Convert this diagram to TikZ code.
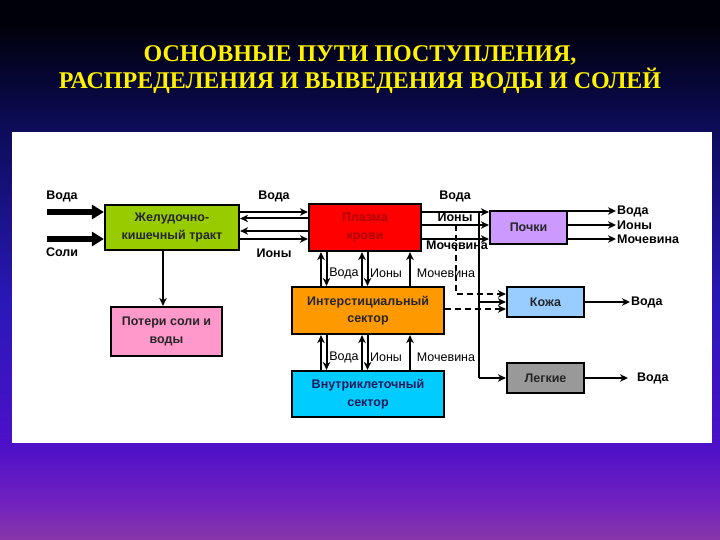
\documentclass[tikz,border=0pt]{standalone}
\usepackage{fontspec}
\setmainfont{Liberation Sans}
\newfontfamily\titlefont{Liberation Serif}
\usetikzlibrary{arrows.meta}
\tikzset{>={Stealth[length = 8pt, width = 7.5pt, inset = 2.5pt]}}
\definecolor{bgbot}{HTML}{8838A8}
\definecolor{bgmid}{HTML}{7020C0}
\definecolor{bgvio}{HTML}{4C10C8}
\definecolor{bgblue}{HTML}{2A18B8}
\definecolor{bgnavy}{HTML}{0C0C5A}
\definecolor{bgtop}{HTML}{000008}
\definecolor{gigreen}{HTML}{99CC00}
\definecolor{plasmared}{HTML}{FF0000}
\definecolor{plasmatext}{HTML}{B00000}
\definecolor{kidneylilac}{HTML}{CC99FF}
\definecolor{losspink}{HTML}{FF99CC}
\definecolor{interorange}{HTML}{FF9900}
\definecolor{skinblue}{HTML}{99CCFF}
\definecolor{intracyan}{HTML}{00CCFF}
\definecolor{intratext}{HTML}{1A1A5A}
\definecolor{lunggray}{HTML}{999999}
\pgfdeclareverticalshading{slidebg}{100bp}{color(0bp)=(bgbot); color(25bp)=(bgbot); color(28.7bp)=(bgmid); color(34bp)=(bgvio); color(47bp)=(bgblue); color(63bp)=(bgnavy); color(73bp)=(bgtop); color(100bp)=(bgtop)}
\tikzset{
  organ/.style = {draw = black, line width = 2.2pt, inner sep = 1pt, align = center,
    font = \bfseries\fontsize{12.5}{17.5}\selectfont, text = black!85},
  flow/.style = {line width = 2pt},
  fat/.style = {line width = 6pt, -{Triangle[length = 12pt, width = 14pt]}},
  lbl/.style = {font = \bfseries\fontsize{12.5}{14}\selectfont, inner sep = 1pt},
  lbllight/.style = {font = \fontsize{12.5}{14}\selectfont, inner sep = 1pt},
  headline/.style = {text = yellow, align = center,
    font = \titlefont\bfseries\fontsize{24}{27}\selectfont}
}

\begin{document}
\begin{tikzpicture}[x = 1pt, y = -1pt]
\useasboundingbox (0, 0) rectangle (720, 540);
\shade[shading = slidebg] (0, 0) rectangle (720, 540);
\fill[white] (12, 132) rectangle (712, 443);
\node[headline] (head) at (360, 70) {ОСНОВНЫЕ ПУТИ ПОСТУПЛЕНИЯ,\\РАСПРЕДЕЛЕНИЯ И ВЫВЕДЕНИЯ ВОДЫ И СОЛЕЙ};

% organs and sectors
\node[organ, fill = gigreen, minimum width = 134pt, minimum height = 45pt] (gi) at (172, 227.5) {Желудочно-\\кишечный тракт};
\node[organ, fill = plasmared, text = plasmatext, minimum width = 112pt, minimum height = 47pt] (plasma) at (365, 227.5) {Плазма\\крови};
\node[organ, fill = kidneylilac, minimum width = 77pt, minimum height = 33pt] (kidney) at (528.5, 227.5) {Почки};
\node[organ, fill = losspink, minimum width = 111pt, minimum height = 49pt] (loss) at (166.5, 331.5) {Потери соли и\\воды};
\node[organ, fill = interorange, minimum width = 152pt, minimum height = 47pt] (inter) at (368, 310.5) {Интерстициальный\\сектор};
\node[organ, fill = skinblue, minimum width = 77pt, minimum height = 30pt] (skin) at (545.5, 302) {Кожа};
\node[organ, fill = intracyan, text = intratext, minimum width = 152pt, minimum height = 46pt] (intra) at (368, 394) {Внутриклеточный\\сектор};
\node[organ, fill = lunggray, minimum width = 77pt, minimum height = 30pt] (lung) at (545.5, 378) {Легкие};

% intake
\coordinate (waterin) at (47, 212);
\coordinate (saltin) at (47, 239);
\draw[fat] (waterin) -- (gi.west |- waterin);
\draw[fat] (saltin) -- (gi.west |- saltin);
\node[lbl] (waterinlbl) at (62, 196) {Вода};
\node[lbl] (saltinlbl) at (62, 252) {Соли};
\draw[flow, ->] (gi.south -| 163, 0) -- (loss.north -| 163, 0);

% gut <-> plasma
\draw[flow, ->] (gi.east |- 0, 212) -- (plasma.west |- 0, 212);
\draw[flow, <-] (gi.east |- 0, 218.5) -- (plasma.west |- 0, 218.5);
\draw[flow, <-] (gi.east |- 0, 231) -- (plasma.west |- 0, 231);
\draw[flow, ->] (gi.east |- 0, 239) -- (plasma.west |- 0, 239);
\node[lbl] (giwater) at (274, 196) {Вода};
\node[lbl] (giions) at (274, 253) {Ионы};

% plasma <-> interstitial
\draw[flow, ->] (inter.north -| 321, 0) -- (plasma.south -| 321, 0);
\draw[flow, ->] (plasma.south -| 326.5, 0) -- (inter.north -| 326.5, 0);
\draw[flow, ->] (inter.north -| 362, 0) -- (plasma.south -| 362, 0);
\draw[flow, ->] (plasma.south -| 367.5, 0) -- (inter.north -| 367.5, 0);
\draw[flow, ->] (inter.north -| 410, 0) -- (plasma.south -| 410, 0);
\node[lbllight] (pwater) at (344, 273) {Вода};
\node[lbllight] (pions) at (386, 273) {Ионы};
\node[lbllight] (purea) at (446, 273) {Мочевина};

% interstitial <-> intracellular
\draw[flow, ->] (intra.north -| 321, 0) -- (inter.south -| 321, 0);
\draw[flow, ->] (inter.south -| 326.5, 0) -- (intra.north -| 326.5, 0);
\draw[flow, ->] (intra.north -| 362, 0) -- (inter.south -| 362, 0);
\draw[flow, ->] (inter.south -| 367.5, 0) -- (intra.north -| 367.5, 0);
\draw[flow, ->] (intra.north -| 410, 0) -- (inter.south -| 410, 0);
\node[lbllight] (cwater) at (344, 357) {Вода};
\node[lbllight] (cions) at (386, 357) {Ионы};
\node[lbllight] (curea) at (446, 357) {Мочевина};

% plasma -> kidney, skin, lungs
\draw[flow, ->] (plasma.east |- 0, 212) -- (kidney.west |- 0, 212);
\draw[flow, ->] (plasma.east |- 0, 225) -- (kidney.west |- 0, 225);
\draw[flow, ->] (plasma.east |- 0, 239) -- (kidney.west |- 0, 239);
\node[lbl] (kwater) at (455, 196) {Вода};
\node[lbl] (kions) at (455, 217.5) {Ионы};
\node[lbl] (kurea) at (457, 245) {Мочевина};
\coordinate (split) at (479, 212);
\coordinate (ionsdrop) at (456, 225);
\draw[flow] (split) -- (lung.west -| split);
\draw[flow, ->] (lung.west -| split) -- (lung.west);
\draw[flow, ->] (skin.west -| split) -- (skin.west);
\draw[flow, dash pattern = on 6pt off 4pt, ->] (ionsdrop) |- ([yshift = 8pt]skin.west);
\draw[flow, dash pattern = on 6pt off 4pt, ->] ([yshift = -7pt]skin.west -| inter.east) -- ([yshift = -7pt]skin.west);

% excretion
\node[lbl, anchor = west] (outwater) at (616, 211) {Вода};
\node[lbl, anchor = west] (outions) at (616, 225) {Ионы};
\node[lbl, anchor = west] (outurea) at (616, 239) {Мочевина};
\draw[flow, ->] (kidney.east |- outwater) -- (outwater.west);
\draw[flow, ->] (kidney.east |- outions) -- (outions.west);
\draw[flow, ->] (kidney.east |- outurea) -- (outurea.west);
\node[lbl, anchor = west] (skinout) at (630, 302) {Вода};
\draw[flow, ->] (skin.east) -- (skinout.west);
\node[lbl, anchor = west] (lungout) at (636, 378) {Вода};
\draw[flow, ->] (lung.east) -- ([xshift = -8pt]lungout.west);
\end{tikzpicture}
\end{document}
